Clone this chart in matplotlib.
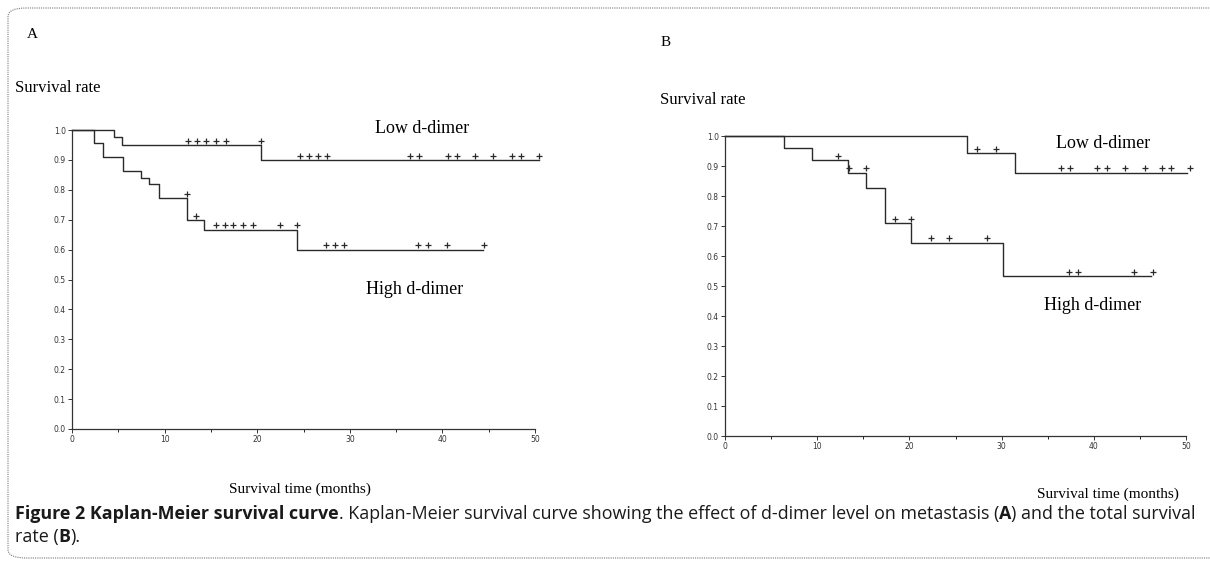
import numpy as np
import matplotlib.pyplot as plt
from matplotlib.patches import FancyBboxPatch

# Datos (tiempo en meses, supervivencia)
a_low_t = [0, 4.5, 5.4, 20.45, 50.4]
a_low_s = [1.0, 0.975, 0.95, 0.90, 0.90]
a_low_cens = [12.5, 13.5, 14.5, 15.5, 16.6, 20.4, 24.6, 25.6, 26.6, 27.5,
              36.5, 37.5, 40.6, 41.6, 43.5, 45.5, 47.5, 48.5, 50.4]

a_high_t = [0, 2.4, 3.4, 5.5, 7.4, 8.3, 9.4, 12.4, 14.3, 24.3, 44.4]
a_high_s = [1.0, 0.955, 0.91, 0.864, 0.841, 0.818, 0.773, 0.70, 0.667, 0.60, 0.60]
a_high_cens = [12.4, 13.4, 15.5, 16.5, 17.4, 18.5, 19.5, 22.5, 24.3,
               27.4, 28.4, 29.4, 37.4, 38.4, 40.5, 44.5]

b_low_t = [0, 26.3, 31.4, 50.1]
b_low_s = [1.0, 0.944, 0.878, 0.878]
b_low_cens = [27.3, 29.4, 36.4, 37.4, 40.4, 41.4, 43.4, 45.5, 47.4, 48.4, 50.4]

b_high_t = [0, 6.4, 9.4, 13.3, 15.3, 17.3, 20.2, 30.2, 46.2]
b_high_s = [1.0, 0.961, 0.92, 0.878, 0.826, 0.71, 0.645, 0.533, 0.533]
b_high_cens = [12.3, 13.4, 15.3, 18.4, 20.2, 22.3, 24.3, 28.4, 37.3, 38.3, 44.4, 46.4]

x_ticks = [0, 10, 20, 30, 40, 50]
y_ticks = [0.0, 0.1, 0.2, 0.3, 0.4, 0.5, 0.6, 0.7, 0.8, 0.9, 1.0]

W, H = 1210, 567
fig = plt.figure(figsize=(W / 100, H / 100), dpi=100)
serif = 'Liberation Serif'
sans = 'Open Sans'


def nivel(t, tiempos, surv):
    # nivel de la curva justo antes del tiempo t
    idx = np.searchsorted(tiempos, t, side='left') - 1
    return surv[max(idx, 0)]


def panel(rect, low, high):
    ax = fig.add_axes(rect)
    for (t, s, cens) in (low, high):
        ax.step(t, s, where='post', color='#2a2a2a', lw=1.0, clip_on=False)
        ys = [nivel(c, t, s) + 0.014 for c in cens]
        ax.plot(cens, ys, '+', color='#2a2a2a', ms=4.5, mew=0.9, clip_on=False)
    ax.set_xlim(0, 50)
    ax.set_ylim(0, 1.0)
    for sp in ('top', 'right'):
        ax.spines[sp].set_visible(False)
    for sp in ('left', 'bottom'):
        ax.spines[sp].set_color('#333333')
        ax.spines[sp].set_linewidth(0.9)
    ax.set_xticks(x_ticks)
    ax.set_xticklabels([str(v) for v in x_ticks])
    ax.set_xticks([5, 15, 25, 35, 45], minor=True)
    ax.set_yticks(y_ticks)
    ax.set_yticklabels(['%.1f' % v for v in y_ticks])
    ax.tick_params(axis='both', labelsize=5.5, length=3, width=0.7, colors='#333333', pad=1.5)
    ax.tick_params(axis='x', which='minor', length=2, width=0.6)
    return ax


def px(x0, x1, y0, y1):
    return [x0 / W, 1 - y0 / H, (x1 - x0) / W, (y0 - y1) / H]


def txt(x, y, s, **kw):
    return fig.text(x / W, 1 - y / H, s, va='center', **kw)


axA = panel(px(72, 535, 429, 130), (a_low_t, a_low_s, a_low_cens), (a_high_t, a_high_s, a_high_cens))
axB = panel(px(725, 1186, 436, 136), (b_low_t, b_low_s, b_low_cens), (b_high_t, b_high_s, b_high_cens))

# textos del panel A
txt(27, 35, 'A', family=serif, fontsize=11)
txt(15, 88, 'Survival rate', family=serif, fontsize=12)
txt(422, 129, 'Low d-dimer', family=serif, fontsize=13, ha='center')
txt(415, 290, 'High d-dimer', family=serif, fontsize=13, ha='center')
txt(300, 489, 'Survival time (months)', family=serif, fontsize=11, ha='center')

# textos del panel B
txt(661, 43, 'B', family=serif, fontsize=11)
txt(660, 100, 'Survival rate', family=serif, fontsize=12)
txt(1103, 143, 'Low d-dimer', family=serif, fontsize=13, ha='center')
txt(1093, 305, 'High d-dimer', family=serif, fontsize=13, ha='center')
txt(1108, 494, 'Survival time (months)', family=serif, fontsize=11, ha='center')

# pie de figura: trozos normales y en negrita colocados uno tras otro
linea1 = [('Figure 2 Kaplan-Meier survival curve', 'bold'),
          ('. Kaplan-Meier survival curve showing the effect of d-dimer level on metastasis (', 'normal'),
          ('A', 'bold'), (') and the total survival', 'normal')]
linea2 = [('rate (', 'normal'), ('B', 'bold'), (').', 'normal')]

fig.canvas.draw()
rend = fig.canvas.get_renderer()


def escribir(partes, y, size):
    x = 15
    objs = []
    for s, w in partes:
        t = txt(x, y, s, family=sans, fontsize=size, fontweight=w, color='#1a1a1a')
        x = t.get_window_extent(rend).x1
        objs.append(t)
    return objs, x


objs, fin = escribir(linea1, 514, 10)
size = 10 * (1195 - 15) / (fin - 15)
for o in objs:
    o.remove()
escribir(linea1, 514, size)
escribir(linea2, 537, size)

# marco redondeado
box = FancyBboxPatch((8 / W, 1 - 558 / H), 1.1, (558 - 8) / H,
                     boxstyle='round,pad=0,rounding_size=0.015', transform=fig.transFigure,
                     fill=False, ec='#777777', lw=0.8, ls=(0, (1, 1)))
fig.add_artist(box)

fig.savefig('out.png', dpi=100)
